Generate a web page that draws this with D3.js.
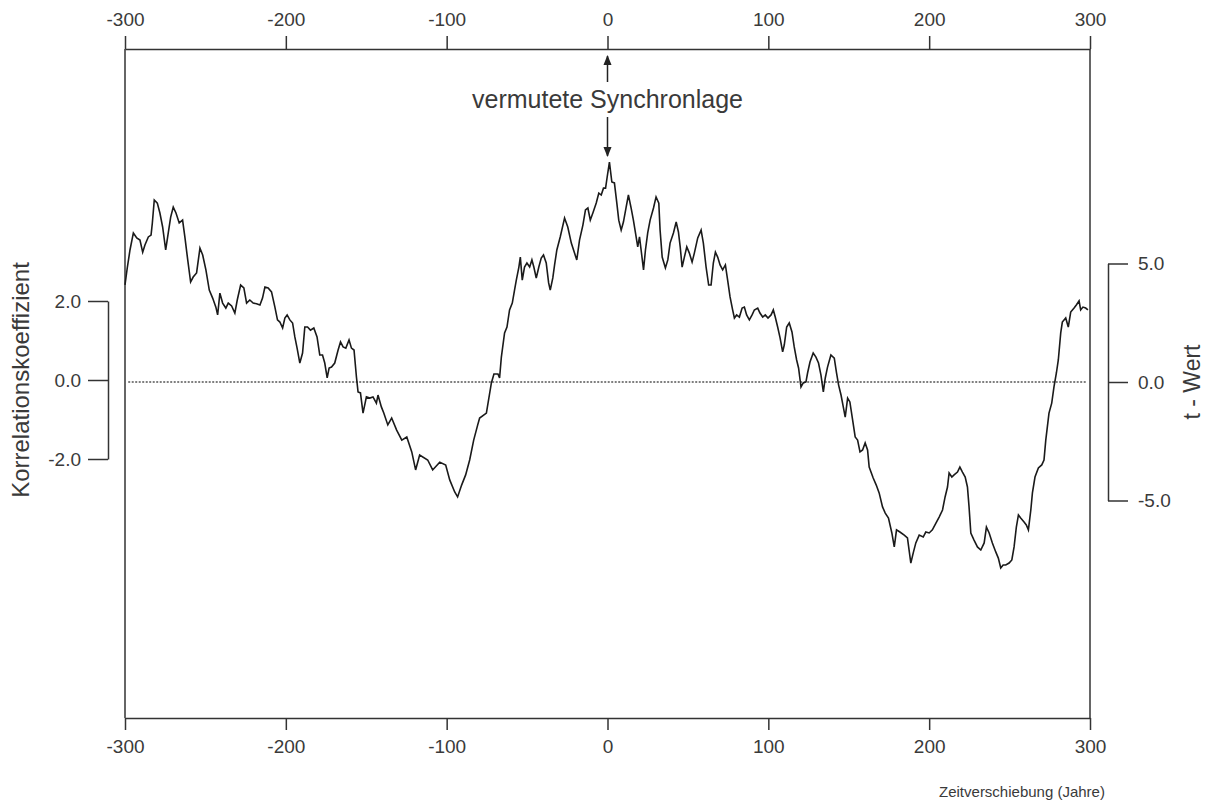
<!DOCTYPE html>
<html>
<head>
<meta charset="utf-8">
<script src="https://cdnjs.cloudflare.com/ajax/libs/d3/7.8.5/d3.min.js"></script>
<style>
  body { margin: 0; background: #fff; }
  text { font-family: "Liberation Sans", Arial, sans-serif; fill: #3a3a3a; }
</style>
</head>
<body>
<svg id="chart" width="1210" height="809"></svg>
<script>
// tick values of the three axes
var shiftTicks = [-300, -200, -100, 0, 100, 200, 300];
var corrTicks = [-2, 0, 2];
var tTicks = [-5, 0, 5];

// [time shift (years), t-value]
var tSeries = [
  [-300,4.1],[-298.6,4.81],[-296.9,5.57],[-294.8,6.29],[-292.7,6.08],[-290.7,5.99],[-289.0,5.48],[-287.6,5.78],[-285.5,6.12],[-283.8,6.20],
  [-283.0,6.71],[-281.8,7.68],[-279.9,7.55],[-278.3,7.13],[-276.6,6.54],[-274.7,5.57],[-273.1,6.29],[-271.6,6.96],[-270.0,7.38],[-268.3,7.13],
  [-266.3,6.71],[-264.2,6.83],[-262.7,6.08],[-261.0,5.15],[-259.2,4.22],[-257.6,4.43],[-255.5,4.60],[-253.4,5.65],[-251.7,5.36],[-249.7,4.73],
  [-247.6,3.88],[-245.5,3.54],[-243.5,3.16],[-242.4,2.83],[-241.0,3.75],[-239.3,3.33],[-237.3,3.12],[-235.8,3.33],[-233.7,3.21],[-231.7,2.91],
  [-230.2,3.46],[-228.1,4.09],[-226.1,3.97],[-224.4,3.33],[-222.4,3.46],[-220.3,3.33],[-218.2,3.30],[-216.1,3.25],[-214.5,3.54],[-213.0,4.01],
  [-211.0,3.97],[-208.9,3.80],[-206.8,3.16],[-205.2,2.62],[-203.7,2.53],[-202.0,2.28],[-200.6,2.70],[-199.2,2.83],[-197.5,2.62],[-195.8,2.49],
  [-194.4,1.90],[-193.0,1.43],[-191.3,0.80],[-189.6,1.22],[-188.2,2.32],[-186.5,2.32],[-184.7,2.19],[-182.6,2.28],[-180.6,1.90],[-178.9,1.14],
  [-177.2,1.14],[-175.8,0.80],[-174.3,0.17],[-173.1,0.59],[-171.6,0.63],[-169.6,0.80],[-167.5,1.35],[-166.0,1.69],[-164.4,1.48],[-162.7,1.43],
  [-160.7,1.77],[-159.2,1.43],[-157.6,1.35],[-156.1,0.21],[-155.1,-0.42],[-153.6,-0.46],[-152.0,-1.31],[-149.9,-0.63],[-147.8,-0.68],[-145.8,-0.63],
  [-143.7,-0.89],[-142.7,-0.55],[-140.6,-1.05],[-139.1,-1.31],
  [-136.6,-1.81],[-134.2,-1.52],[-131.1,-2.03],[-127.9,-2.45],[-124.8,-2.32],[-121.7,-2.95],[-119.3,-3.71],[-116.8,-3.08],[-111.8,-3.29],[-108.7,-3.71],
  [-104.3,-3.38],[-100.6,-3.50],[-98.1,-4.13],[-95.0,-4.64],[-93.2,-4.85],[-90.7,-4.35],[-88.2,-3.92],[-85.7,-3.29],[-83.2,-2.45],[-80.7,-1.81],[-79.5,-1.52],
  [-75.3,-1.31],[-72.2,-0.04],[-70.6,0.34],[-68.1,0.34],[-67.1,0.17],[-66.0,1.05],[-64.0,2.07],[-62.5,2.32],[-60.9,3.04],[-59.2,3.33],
  [-57.8,3.88],[-56.7,4.30],[-55.1,4.85],[-54.2,5.27],[-53.0,4.30],[-51.6,4.85],[-50.1,5.02],[-48.4,4.85],[-47.0,5.15],[-45.8,4.85],
  [-44.3,4.39],[-42.7,4.85],[-41.2,5.23],[-39.8,5.36],[-38.1,5.02],[-36.6,4.18],[-35.6,3.88],[-34.0,4.39],[-32.9,4.94],[-31.5,5.57],
  [-29.4,6.12],[-26.7,6.92],[-24.7,6.54],[-22.5,5.86],[-20.5,5.44],[-19.1,5.15],[-17.4,5.99],[-15.3,6.62],[-13.7,7.26],[-12.2,7.34],
  [-10.7,6.83],[-9.1,7.13],[-7.0,7.55],[-5.4,7.97],[-3.9,7.89],[-2.5,8.18],[-1.2,8.18],[-0.2,8.65],[1.2,9.28],[2.7,8.44],
  [4.3,8.40],[5.8,7.55],[7.0,6.83],[8.5,6.41],[9.9,6.75],[11.6,7.38],[13.0,7.89],[14.7,7.34],[16.1,6.83],[17.8,6.12],
  [18.8,5.70],[19.9,6.12],[20.9,5.57],[22.4,4.73],[23.6,5.57],[25.0,6.29],[26.5,6.83],[28.6,7.34],[30.2,7.81],[31.9,7.55],
  [32.7,6.41],[34.0,5.27],[36.0,4.81],[37.5,5.15],[38.9,5.86],[41.0,6.29],[42.7,6.75],[44.1,6.33],[45.2,5.70],[46.4,4.85],
  [47.8,5.27],[49.3,5.70],[50.9,5.44],[52.6,5.06],[54.0,5.44],[56.1,6.08],[58.2,6.41],[59.6,5.86],[61.3,4.85],[62.9,4.09],
  [64.4,4.09],[65.8,5.02],[67.1,5.48],[68.5,5.27],[70.0,4.94],[71.6,4.73],[73.3,4.94],[74.7,4.30],[76.2,3.59],[77.8,3.04],
  [78.9,2.70],[80.3,2.83],[82.0,2.74],[83.7,3.12],[85.1,3.16],[86.5,2.83],[88.2,2.62],[89.9,2.83],[91.3,3.04],[93.4,3.12],
  [94.8,2.91],[96.5,2.74],[98.1,2.83],[99.8,2.70],[101.7,2.83],[103.1,3.04],[104.3,2.74],[105.8,2.32],[107.3,1.86],[108.9,1.27],
  [109.9,1.56],[111.4,2.32],[113.0,2.49],[114.7,2.11],[116.1,1.48],[117.6,0.93],[118.8,0.59],[120.3,-0.21],[121.7,-0.04],[123.4,0.0],
  [124.4,0.38],[125.9,0.84],[127.9,1.22],[129.6,1.05],[131.2,0.80],[132.7,0.30],[134.2,-0.42],[135.4,0.17],[136.8,0.63],[138.9,1.14],
  [141.0,1.01],[142.4,0.38],[143.7,-0.13],[145.2,-0.55],[146.6,-1.05],[147.8,-1.48],[149.3,-0.68],[150.7,-0.84],[152.4,-1.60],[154.0,-2.32],
  [155.5,-2.45],[157.0,-2.95],[158.6,-2.87],[160.2,-2.57],[161.7,-2.87],[162.7,-3.59],[165.2,-4.05],[167.1,-4.35],[168.9,-4.68],[171.0,-5.27],
  [172.7,-5.53],[174.7,-5.74],[176.8,-6.37],[178.3,-6.96],[179.7,-6.24],[181.8,-6.33],[184.5,-6.46],[186.5,-6.58],[188.6,-7.64],[190.1,-7.21],
  [191.7,-6.79],[193.8,-6.46],[196.3,-6.54],[197.9,-6.33],[200.0,-6.37],[202.0,-6.24],[204.2,-5.95],[206.2,-5.70],[208.3,-5.40],[209.9,-4.85],
  [211.4,-4.43],[212.4,-3.84],[214.1,-4.01],[215.5,-3.92],[217.6,-3.80],[219.1,-3.59],[220.7,-3.80],[222.4,-4.01],[223.8,-4.43],[224.8,-5.27],
  [225.9,-6.37],[227.9,-6.67],[230.0,-6.96],[232.1,-7.09],[234.2,-6.79],[235.6,-6.12],[237.3,-6.37],[239.3,-6.79],[241.4,-7.17],[243.0,-7.43],
  [244.5,-7.85],[246.0,-7.72],[247.6,-7.72],[249.7,-7.64],[251.4,-7.51],[252.8,-6.96],[254.2,-6.12],[255.5,-5.61],[256.9,-5.74],[259.0,-5.91],
  [260.4,-6.03],[261.7,-6.24],[263.2,-5.40],[264.2,-4.68],[265.8,-4.01],[267.9,-3.63],[270.0,-3.50],[271.4,-3.29],[272.5,-2.45],[274.5,-1.31],
  [276.2,-0.89],[277.6,-0.21],[279.1,0.38],[280.3,0.93],[281.8,2.07],[282.8,2.53],[284.9,2.70],[286.5,2.32],[288.0,2.95],[290.1,3.12],
  [291.5,3.25],[293.2,3.42],[294.2,3.04],[295.6,3.16],[297.3,3.12],[298.7,3.04]
];

var svg = d3.select('#chart');
var yTop = 49, yBottom = 718;

var x = d3.scaleLinear().domain([-300, 300]).range([125, 1090]);
var yT = d3.scaleLinear().domain([-5, 5]).range([500.5, 263.5]);   // t - Wert
var yR = d3.scaleLinear().domain([-2, 2]).range([459, 301]);       // Korrelationskoeffizient

function styleAxis(g, size){
  g.selectAll('path, line').attr('stroke', '#333').attr('stroke-width', 1.5);
  g.selectAll('text').attr('fill', '#3a3a3a').style('font-size', size + 'px');
}

// top and bottom time axes
svg.append('g')
  .attr('transform', 'translate(0,' + yTop + ')')
  .call(d3.axisTop(x).tickValues(shiftTicks).tickSize(13).tickSizeOuter(0).tickPadding(10).tickFormat(d => String(d)))
  .call(styleAxis, 19);

svg.append('g')
  .attr('transform', 'translate(0,' + yBottom + ')')
  .call(d3.axisBottom(x).tickValues(shiftTicks).tickSize(12).tickSizeOuter(0).tickPadding(10).tickFormat(d => String(d)))
  .call(styleAxis, 19);

// frame sides
svg.selectAll('line.side')
  .data([-300, 300])
  .enter().append('line')
  .attr('class', 'side')
  .attr('x1', d => x(d)).attr('x2', d => x(d))
  .attr('y1', yTop).attr('y2', yBottom)
  .attr('stroke', '#333').attr('stroke-width', 1.5);

// side brackets
svg.append('g')
  .attr('transform', 'translate(108,0)')
  .call(d3.axisLeft(yR).tickValues(corrTicks).tickSize(20).tickSizeOuter(0).tickPadding(7).tickFormat(d => d.toFixed(1)))
  .call(styleAxis, 19);

svg.append('g')
  .attr('transform', 'translate(1108,0)')
  .call(d3.axisRight(yT).tickValues(tTicks).tickSize(20).tickSizeOuter(0).tickPadding(10).tickFormat(d => d.toFixed(1)))
  .call(styleAxis, 19);

// zero line
svg.append('line')
  .attr('x1', x(-298)).attr('x2', x(298))
  .attr('y1', yT(0)).attr('y2', yT(0))
  .attr('stroke', '#555').attr('stroke-width', 1.5)
  .attr('stroke-dasharray', '2,1.5');

// the curve
var line = d3.line()
  .x(d => x(d[0]))
  .y(d => yT(d[1]));

svg.append('path')
  .datum(tSeries)
  .attr('d', line)
  .attr('fill', 'none')
  .attr('stroke', '#1a1a1a')
  .attr('stroke-width', 1.6)
  .attr('stroke-linejoin', 'miter');

// axis titles
svg.append('text')
  .attr('transform', 'translate(20,' + yR(0) + ') rotate(-90)')
  .attr('text-anchor', 'middle')
  .attr('dominant-baseline', 'central')
  .style('font-size', '24px')
  .text('Korrelationskoeffizient');

svg.append('text')
  .attr('transform', 'translate(1192,' + yT(0) + ') rotate(-90)')
  .attr('text-anchor', 'middle')
  .attr('dominant-baseline', 'central')
  .style('font-size', '23px')
  .text('t - Wert');

svg.append('text')
  .attr('x', 1022).attr('y', 797)
  .attr('text-anchor', 'middle')
  .style('font-size', '15px')
  .text('Zeitverschiebung (Jahre)');

// annotation with two arrows
var defs = svg.append('defs');
defs.append('marker')
  .attr('id', 'head')
  .attr('viewBox', '0 0 10 10')
  .attr('refX', 9).attr('refY', 5)
  .attr('markerWidth', 7).attr('markerHeight', 7)
  .attr('orient', 'auto')
  .append('path')
  .attr('d', 'M0,1L10,5L0,9Z')
  .attr('fill', '#222');

var ax = x(0);
svg.append('line')
  .attr('x1', ax).attr('x2', ax).attr('y1', 82).attr('y2', 56)
  .attr('stroke', '#222').attr('stroke-width', 1.5)
  .attr('marker-end', 'url(#head)');
svg.append('line')
  .attr('x1', ax).attr('x2', ax).attr('y1', 117).attr('y2', 156)
  .attr('stroke', '#222').attr('stroke-width', 1.5)
  .attr('marker-end', 'url(#head)');

svg.append('text')
  .attr('x', ax).attr('y', 108)
  .attr('text-anchor', 'middle')
  .style('font-size', '25px')
  .text('vermutete Synchronlage');
</script>
</body>
</html>
